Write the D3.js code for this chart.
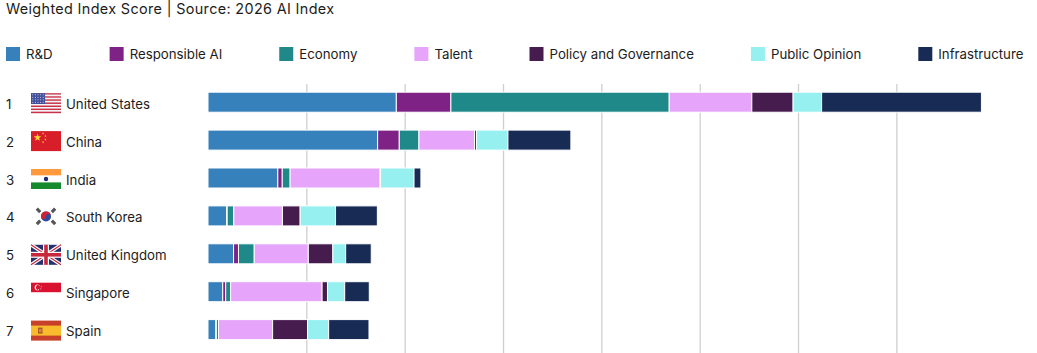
<!DOCTYPE html>
<html>
<head>
<meta charset="utf-8">
<script src="https://cdn.jsdelivr.net/npm/d3@7"></script>
<style>
  html, body { margin: 0; padding: 0; background: #fff; }
  svg { display: block; }
  text { font-family: "Inter", sans-serif; fill: #1c1c1c; }
</style>
</head>
<body>
<div id="d3"></div>
<script>
const countries = ["United States", "China", "India", "South Korea", "United Kingdom", "Singapore", "Spain"];
const pillars = ["R&D", "Responsible AI", "Economy", "Talent", "Policy and Governance", "Public Opinion", "Infrastructure"];
const colors = ["#3680bc", "#7e2285", "#1f8888", "#e6a5fb", "#461c4e", "#96f0f0", "#172b54"];

// one list per pillar, same order as countries
const rd = [19.15, 17.25, 7.1, 1.9, 2.6, 1.5, 0.8];
const responsibleAi = [5.55, 2.2, 0.45, 0.05, 0.5, 0.3, 0.05];
const economy = [22.2, 2.0, 0.8, 0.67, 1.6, 0.5, 0.22];
const talent = [8.4, 5.65, 9.15, 4.95, 5.5, 9.3, 5.5];
const policy = [4.2, 0.2, 0.05, 1.8, 2.5, 0.55, 3.55];
const opinion = [2.9, 3.2, 3.4, 3.6, 1.3, 1.75, 2.15];
const infrastructure = [16.25, 6.4, 0.7, 4.25, 2.6, 2.5, 4.1];
const gridTicks = [10, 20, 30, 40, 50, 60, 70];

const seriesValues = [rd, responsibleAi, economy, talent, policy, opinion, infrastructure];
const rows = countries.map((c, i) => {
  const row = { country: c };
  pillars.forEach((p, j) => (row[p] = seriesValues[j][i]));
  return row;
});

const width = 1037,
  height = 353;

const svg = d3.select("#d3").append("svg").attr("width", width).attr("height", height);

// title
svg.append("text").attr("x", 6).attr("y", 14).style("font-size", "14.4px").style("letter-spacing", "0.35px")
  .text("Weighted Index Score | Source: 2026 AI Index");

// legend flows left to right with a fixed gap after each label
let legendX = 6;
pillars.forEach((p, i) => {
  svg.append("rect").attr("x", legendX).attr("y", 47).attr("width", 14).attr("height", 14).attr("fill", colors[i]);
  const t = svg.append("text").attr("x", legendX + 20).attr("y", 59).style("font-size", "13.25px").text(p);
  legendX += 20 + t.node().getComputedTextLength() + 57;
});

const x = d3.scaleLinear().domain([0, 80]).range([208, 994.7]);
const y = d3.scaleBand().domain(countries).range([83.25, 348.55]).paddingInner(0.472).paddingOuter(0.236);

// grid lines, no labels in the original
const grid = svg.append("g").attr("transform", "translate(0,84)")
  .call(d3.axisBottom(x).tickValues(gridTicks).tickSize(269).tickFormat(""));
grid.select(".domain").remove();
grid.selectAll("line").attr("stroke", "#cfcfcf").attr("stroke-width", 1.3);

// Bars
const stackedData = d3.stack().keys(pillars)(rows);
svg.append("g")
  .selectAll("g")
  .data(stackedData)
  .join("g")
  .attr("fill", (d, i) => colors[i])
  .selectAll("rect")
  .data((d) => d)
  .join("rect")
  .attr("x", (d) => x(d[0]))
  .attr("y", (d) => y(d.data.country))
  .attr("width", (d) => x(d[1]) - x(d[0]))
  .attr("height", y.bandwidth())
  .attr("stroke", "#fff")
  .attr("stroke-width", 1);

// rank + name
const labels = svg.append("g").selectAll("g").data(countries).join("g")
  .attr("transform", (d) => `translate(0,${y(d) + y.bandwidth() / 2})`);
labels.append("text").attr("x", 6).attr("y", 6.5).style("font-size", "13.25px").text((d, i) => i + 1);
labels.append("text").attr("x", 66).attr("y", 6.5).style("font-size", "13.25px").text((d) => d);

// flags, each drawn in a 30x20 box
function star(g, cx, cy, r, fill, rot = 0) {
  const pts = d3.range(10).map((i) => {
    const a = rot + (i * Math.PI) / 5 - Math.PI / 2,
      q = i % 2 ? r * 0.4 : r;
    return [cx + q * Math.cos(a), cy + q * Math.sin(a)].join(",");
  });
  g.append("polygon").attr("points", pts.join(" ")).attr("fill", fill);
}
function box(g, a, b, w, h, fill) {
  return g.append("rect").attr("x", a).attr("y", b).attr("width", w).attr("height", h).attr("fill", fill);
}
const flags = {
  "United States": (g) => {
    d3.range(13).forEach((i) => box(g, 0, (i * 20) / 13, 30, 20 / 13, i % 2 ? "#f4f4f4" : "#c8324a"));
    box(g, 0, 0, 14, 10.8, "#3f4f9a");
    d3.range(4).forEach((r) => d3.range(5).forEach((c) =>
      g.append("circle").attr("cx", 1.8 + c * 2.6).attr("cy", 1.6 + r * 2.5).attr("r", 0.55).attr("fill", "#dfe4f5")));
  },
  China: (g) => {
    box(g, 0, 0, 30, 20, "#d81e28");
    star(g, 6.5, 6.5, 4, "#fdd835");
    [[12, 2.5], [14.5, 5], [14.5, 8.5], [12, 11]].forEach((p) => star(g, p[0], p[1], 1.2, "#fdd835", 0.5));
  },
  India: (g) => {
    box(g, 0, 0, 30, 6.6, "#ff9a3c");
    box(g, 0, 6.6, 30, 6.8, "#fff");
    box(g, 0, 13.4, 30, 6.6, "#158a2e");
    g.append("circle").attr("cx", 15).attr("cy", 10).attr("r", 2.2).attr("fill", "#1c2a78");
  },
  "South Korea": (g) => {
    g.append("circle").attr("cx", 15).attr("cy", 9.5).attr("r", 5).attr("fill", "#2c4a9e");
    g.append("path").attr("d", "M10,9.5 A5,5 0 0 1 20,9.5 A2.5,2.5 0 0 0 15,9.5 A2.5,2.5 0 0 1 10,9.5 Z").attr("fill", "#cf2233");
    [[7.5, 3.5, 45], [22.5, 3.5, -45], [7.5, 15.5, -45], [22.5, 15.5, 45]].forEach((p) => {
      box(g, p[0] - 2.4, p[1] - 1.6, 4.8, 3.2, "#555").attr("transform", `rotate(${p[2]},${p[0]},${p[1]})`);
    });
  },
  "United Kingdom": (g) => {
    box(g, 0, 0, 30, 20, "#27306e");
    g.append("path").attr("d", "M0,0L30,20M30,0L0,20").attr("stroke", "#fff").attr("stroke-width", 3.6);
    g.append("path").attr("d", "M0,0L30,20M30,0L0,20").attr("stroke", "#c8283c").attr("stroke-width", 1.2);
    box(g, 12, 0, 6, 20, "#fff");
    box(g, 0, 7, 30, 6, "#fff");
    box(g, 13.2, 0, 3.6, 20, "#c8283c");
    box(g, 0, 8.2, 30, 3.6, "#c8283c");
  },
  Singapore: (g) => {
    box(g, 0, 0, 30, 9.5, "#d9122f");
    g.append("circle").attr("cx", 6.5).attr("cy", 4.7).attr("r", 2.8).attr("fill", "#fff");
    g.append("circle").attr("cx", 7.6).attr("cy", 4.7).attr("r", 2.6).attr("fill", "#d9122f");
    [[8.2, 3], [10.2, 4], [9.8, 6.2], [7.6, 6.8]].forEach((p) => star(g, p[0], p[1], 0.8, "#fff"));
  },
  Spain: (g) => {
    box(g, 0, 0, 30, 20, "#c8402a");
    box(g, 0, 5, 30, 10, "#f7bb2c");
    box(g, 7, 7, 4.5, 6, "#a9562a");
    box(g, 8, 8.5, 2.5, 3, "#d88a3a");
  },
};
svg.append("g").selectAll("g").data(countries).join("g")
  .attr("transform", (d) => `translate(31,${y(d) + y.bandwidth() / 2 - 9})`)
  .each(function (d) {
    flags[d](d3.select(this));
  });
</script>
</body>
</html>
